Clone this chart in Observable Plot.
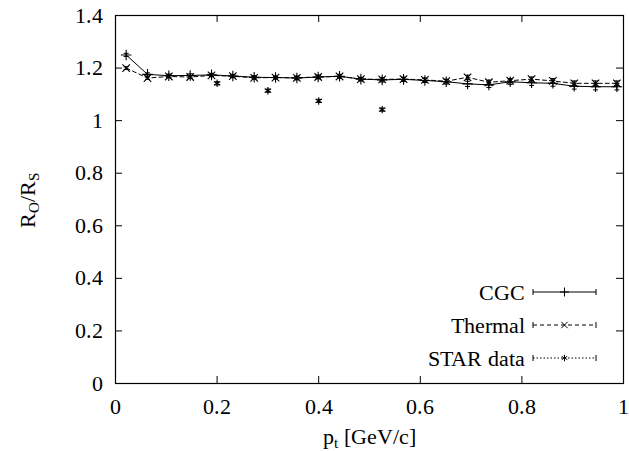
<!DOCTYPE html>
<html>
<head>
<meta charset="utf-8">
<script src="https://cdn.jsdelivr.net/npm/d3@7"></script>
<script src="https://cdn.jsdelivr.net/npm/@observablehq/plot@0.6"></script>
<style>
  @font-face { font-family: "RefSerif"; src: local("Liberation Serif"), local("LiberationSerif"), local("LiberationSerif-Regular"), local("Times New Roman"), local("DejaVu Serif"), local("DejaVuSerif"), local("Noto Serif"), local("NotoSerif-Regular"); }
  html, body { margin: 0; padding: 0; background: white; }
  svg { display: block; }
  svg, svg text, svg tspan { font-family: RefSerif, "Liberation Serif", "Times New Roman", Times, "DejaVu Serif", serif !important; }
</style>
</head>
<body>
<script>
// ---- data ----
const pt = [0.021,0.063,0.105,0.147,0.189,0.231,0.273,0.315,0.357,0.399,0.441,0.483,
            0.525,0.567,0.609,0.651,0.693,0.735,0.777,0.819,0.861,0.903,0.945,0.987];
const cgc = [1.250,1.176,1.171,1.172,1.174,1.170,1.165,1.164,1.162,1.166,1.169,1.158,
             1.155,1.157,1.153,1.148,1.140,1.136,1.148,1.144,1.142,1.131,1.129,1.129];
const cgcErr = [0.006,0.006,0.006,0.006,0.006,0.006,0.006,0.006,0.007,0.007,0.007,0.007,
                0.008,0.008,0.008,0.009,0.010,0.010,0.010,0.010,0.011,0.011,0.012,0.012];
const thermal = [1.200,1.162,1.168,1.166,1.172,1.169,1.163,1.164,1.163,1.166,1.168,1.158,
                 1.157,1.158,1.155,1.150,1.165,1.146,1.152,1.158,1.151,1.142,1.142,1.142];
const thermalErr = [0.005,0.005,0.005,0.005,0.005,0.005,0.005,0.005,0.006,0.006,0.006,0.006,
                    0.006,0.007,0.007,0.007,0.008,0.008,0.008,0.008,0.009,0.009,0.009,0.009];
const starPt = [0.200,0.300,0.400,0.525];
const starRatio = [1.142,1.114,1.075,1.042];
const starErr = [0.006,0.006,0.006,0.006];
const xTicks = [0,0.2,0.4,0.6,0.8,1];
const yTicks = [0,0.2,0.4,0.6,0.8,1,1.2,1.4];
const seriesNames = ["CGC","Thermal","STAR data"];

const cgcData = pt.map((x,i)=>({x, y:cgc[i], e:cgcErr[i]}));
const thData = pt.map((x,i)=>({x, y:thermal[i], e:thermalErr[i]}));
const starData = starPt.map((x,i)=>({x, y:starRatio[i], e:starErr[i]}));

const cap = {draw(ctx, size){ const r = Math.sqrt(size/Math.PI); ctx.moveTo(-r,0); ctx.lineTo(r,0); }};

function errMarks(data, symbol) {
  return [
    Plot.ruleX(data, {x:"x", y1:d=>d.y-d.e, y2:d=>d.y+d.e, stroke:"black", strokeWidth:1}),
    Plot.dot(data, {x:"x", y:d=>d.y-d.e, symbol:cap, r:2.5, stroke:"black", fill:"none", strokeWidth:1}),
    Plot.dot(data, {x:"x", y:d=>d.y+d.e, symbol:cap, r:2.5, stroke:"black", fill:"none", strokeWidth:1}),
    Plot.dot(data, {x:"x", y:"y", symbol, r:3.5, stroke:"black", fill:"none", strokeWidth:1.1})
  ];
}

const W = 629, H = 451, mL = 115, mR = 6, mT = 15, mB = 68;
const fw = W - mL - mR, fh = H - mT - mB;
const font = "RefSerif, 'Liberation Serif', 'Times New Roman', Times, 'DejaVu Serif', serif";
const fs = 22;

const svg = Plot.plot({
  width: W, height: H,
  marginLeft: mL, marginRight: mR, marginTop: mT, marginBottom: mB,
  style: {fontFamily: font, fontSize: fs + "px", color: "black", background: "white"},
  x: {domain: [0, 1]},
  y: {domain: [0, 1.4]},
  marks: [
    Plot.tickX(xTicks, {x: d=>d, insetTop: fh-7, stroke:"black"}),
    Plot.tickX(xTicks, {x: d=>d, insetBottom: fh-7, stroke:"black"}),
    Plot.tickY(yTicks, {y: d=>d, insetRight: fw-7, stroke:"black"}),
    Plot.tickY(yTicks, {y: d=>d, insetLeft: fw-7, stroke:"black"}),
    Plot.axisX({ticks: xTicks, tickSize: 0, tickPadding: 15, tickFormat: d=>String(d), label: null, fontSize: fs}),
    Plot.axisY({ticks: yTicks, tickSize: 0, tickPadding: 13, tickFormat: d=>String(d), label: null, fontSize: fs}),
    Plot.line(cgcData, {x:"x", y:"y", stroke:"black", strokeWidth:1}),
    Plot.line(thData, {x:"x", y:"y", stroke:"black", strokeWidth:1, strokeDasharray:"4,3"}),
    ...errMarks(thData, "times"),
    ...errMarks(cgcData, "plus"),
    ...errMarks(starData, "asterisk"),
    Plot.frame({stroke:"black", strokeWidth:1.2})
  ]
});
document.body.appendChild(svg);

// ---- axis titles and key ----
const s = d3.select(svg);
const xl = s.append("text").attr("x", 369).attr("y", 444).attr("text-anchor","middle")
  .attr("font-family", font).attr("font-size", fs).attr("fill","black");
xl.append("tspan").text("p");
xl.append("tspan").attr("font-size", 15).attr("dy", 4).text("t");
xl.append("tspan").attr("dy", -4).text(" [GeV/c]");

const yl = s.append("text").attr("transform","translate(35,200) rotate(-90)").attr("text-anchor","middle")
  .attr("font-family", font).attr("font-size", fs).attr("fill","black");
yl.append("tspan").text("R");
yl.append("tspan").attr("font-size", 15).attr("dy", 4).text("O");
yl.append("tspan").attr("dy", -4).text("/R");
yl.append("tspan").attr("font-size", 15).attr("dy", 4).text("S");

const keyY = [292, 325, 358];
const keyDash = [null, "4,3", "1.5,2"];
const keySym = [d3.symbolPlus, d3.symbolTimes, d3.symbolAsterisk];
seriesNames.forEach((name, i) => {
  const g = s.append("g").attr("stroke","black").attr("fill","none").attr("stroke-width",1);
  s.append("text").attr("x", 525).attr("y", keyY[i]).attr("dy","0.35em").attr("text-anchor","end")
    .attr("font-family", font).attr("font-size", fs).attr("fill","black").text(name);
  const ln = g.append("line").attr("x1",533).attr("x2",596).attr("y1",keyY[i]).attr("y2",keyY[i]);
  if (keyDash[i]) ln.attr("stroke-dasharray", keyDash[i]);
  g.append("line").attr("x1",533).attr("x2",533).attr("y1",keyY[i]-3).attr("y2",keyY[i]+3);
  g.append("line").attr("x1",596).attr("x2",596).attr("y1",keyY[i]-3).attr("y2",keyY[i]+3);
  g.append("path").attr("transform",`translate(564.5,${keyY[i]})`)
    .attr("d", d3.symbol(keySym[i], 3*3*Math.PI)());
});
</script>
</body>
</html>
